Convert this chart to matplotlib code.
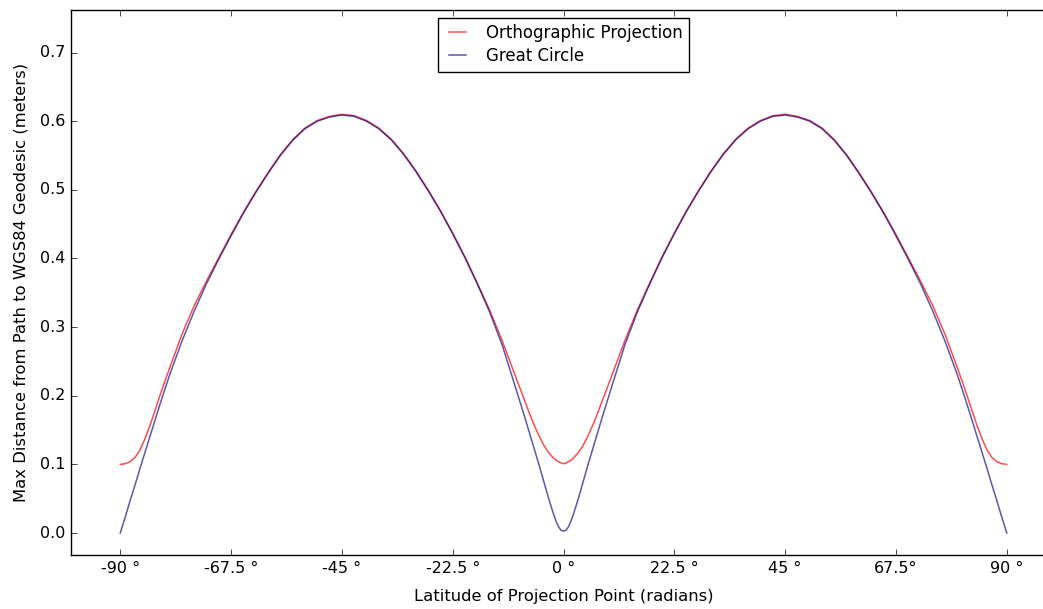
import matplotlib
matplotlib.use("Agg")
import matplotlib.pyplot as plt

# Latitude of projection point (degrees), left half and right half
lat_left = [-90, -89, -88, -87, -86, -85, -84, -83, -82, -81, -80, -77.5, -75, -72.5,
            -70, -67.5, -65, -62.5, -60, -57.5, -55, -52.5, -50, -47.5, -45, -42.5,
            -40, -37.5, -35, -32.5, -30, -27.5, -25, -22.5, -20, -17.5, -15, -12.5,
            -10, -9, -8, -7, -6, -5, -4, -3, -2, -1.5, -1, -0.5, 0]
lat_right = [0, 0.5, 1, 1.5, 2, 3, 4, 5, 6, 7, 8, 9, 10, 12.5, 15, 17.5, 20, 22.5,
             25, 27.5, 30, 32.5, 35, 37.5, 40, 42.5, 45, 47.5, 50, 52.5, 55, 57.5,
             60, 62.5, 65, 67.5, 70, 72.5, 75, 77.5, 80, 81, 82, 83, 84, 85, 86, 87,
             88, 89, 90]

# Orthographic projection: max distance (m)
ortho_left = [0.100, 0.101, 0.104, 0.110, 0.121, 0.137, 0.156, 0.177, 0.199, 0.220, 0.240,
              0.289, 0.331, 0.367, 0.401, 0.435, 0.467, 0.497, 0.525, 0.551, 0.573, 0.590,
              0.601, 0.607, 0.610, 0.608, 0.601, 0.590, 0.574, 0.553, 0.528, 0.500, 0.470,
              0.437, 0.402, 0.364, 0.325, 0.281, 0.233, 0.214, 0.195, 0.176, 0.158, 0.142,
              0.128, 0.117, 0.109, 0.106, 0.104, 0.102, 0.101]
ortho_right = [0.101, 0.102, 0.104, 0.106, 0.109, 0.117, 0.128, 0.142, 0.158, 0.176, 0.195,
               0.214, 0.233, 0.281, 0.325, 0.364, 0.402, 0.437, 0.470, 0.500, 0.528, 0.553,
               0.574, 0.590, 0.601, 0.608, 0.610, 0.607, 0.601, 0.590, 0.573, 0.551, 0.525,
               0.497, 0.467, 0.435, 0.401, 0.367, 0.331, 0.289, 0.240, 0.220, 0.199, 0.177,
               0.156, 0.137, 0.121, 0.110, 0.104, 0.101, 0.100]

# Great circle: max distance (m)
great_left = [0.000, 0.023, 0.047, 0.070, 0.094, 0.117, 0.140, 0.163, 0.186, 0.208, 0.230,
              0.279, 0.323, 0.363, 0.399, 0.433, 0.466, 0.496, 0.524, 0.550, 0.572, 0.589,
              0.600, 0.606, 0.609, 0.607, 0.600, 0.589, 0.573, 0.552, 0.527, 0.499, 0.469,
              0.436, 0.401, 0.363, 0.322, 0.275, 0.218, 0.195, 0.172, 0.148, 0.124, 0.100,
              0.075, 0.050, 0.027, 0.017, 0.009, 0.004, 0.003]
great_right = [0.003, 0.004, 0.009, 0.017, 0.027, 0.050, 0.075, 0.100, 0.124, 0.148, 0.172,
               0.195, 0.218, 0.275, 0.322, 0.363, 0.401, 0.436, 0.469, 0.499, 0.527, 0.552,
               0.573, 0.589, 0.600, 0.607, 0.609, 0.606, 0.600, 0.589, 0.572, 0.550, 0.524,
               0.496, 0.466, 0.433, 0.399, 0.363, 0.323, 0.279, 0.230, 0.208, 0.186, 0.163,
               0.140, 0.117, 0.094, 0.070, 0.047, 0.023, 0.000]

xticks = [-90, -67.5, -45, -22.5, 0, 22.5, 45, 67.5, 90]
xtick_labels = ["-90 °", "-67.5 °", "-45 °", "-22.5 °", "0 °", "22.5 °", "45 °", "67.5°", "90 °"]
yticks = [0.0, 0.1, 0.2, 0.3, 0.4, 0.5, 0.6, 0.7]

lat = lat_left + lat_right[1:]
ortho = ortho_left + ortho_right[1:]
great = great_left + great_right[1:]

plt.style.use("classic")
plt.rcParams["font.family"] = ["DejaVu Sans"]

fig = plt.figure(figsize=(10.43, 6.09), dpi=100, facecolor="white")
ax = fig.add_axes([71 / 1043, 54 / 609, 985 / 1043, 545 / 609])
ax.set_facecolor("white")

ax.plot(lat, ortho, color="red", alpha=0.7, lw=1.1, label="Orthographic Projection")
ax.plot(lat, great, color="navy", alpha=0.65, lw=1.1, label="Great Circle")

ax.set_xlim(-100, 100)
ax.set_ylim(-0.032, 0.762)
ax.set_xticks(xticks)
ax.set_xticklabels(xtick_labels)
ax.set_yticks(yticks)
ax.tick_params(labelsize=11.5)
ax.spines["right"].set_visible(False)

ax.set_xlabel("Latitude of Projection Point (radians)", fontsize=11.8, labelpad=10)
ax.set_ylabel("Max Distance from Path to WGS84 Geodesic (meters)", fontsize=11.8, labelpad=8)

leg = ax.legend(loc="upper center", fontsize=12, frameon=True, fancybox=False,
                handlelength=1.6, handletextpad=0.9, borderpad=0.4,
                borderaxespad=0.45, labelspacing=0.3)
leg.get_frame().set_edgecolor("black")

fig.savefig("out.png", dpi=100, facecolor="white")
